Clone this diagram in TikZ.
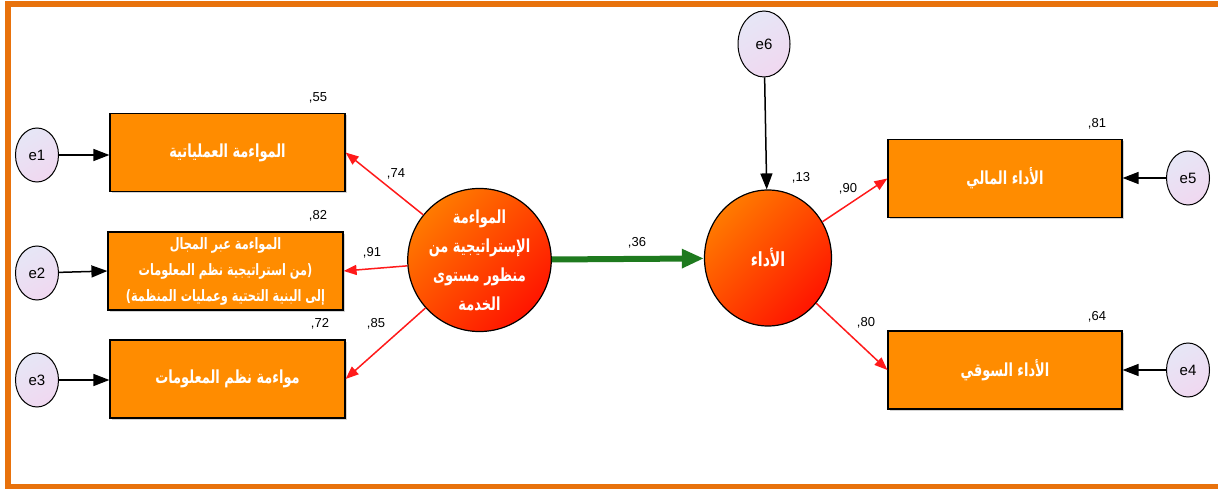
\documentclass[tikz,border=0pt]{standalone}
\usepackage{fontspec}
\setmainfont{Liberation Sans}
\newfontfamily\arabicfont[Script=Arabic,FakeStretch=0.72]{DejaVu Sans}
\TeXXeTstate=1
\usetikzlibrary{shapes.geometric,arrows.meta,shadows}
\definecolor{frameor}{HTML}{E8720C}
\definecolor{boxor}{HTML}{FF8C00}
\definecolor{circo}{HTML}{FF7A00}
\definecolor{circr}{HTML}{FF1500}
\definecolor{lavA}{HTML}{E6E6F6}
\definecolor{lavB}{HTML}{F0D8F0}
\definecolor{redline}{HTML}{FF1A1A}
\definecolor{greenline}{HTML}{1E7A1E}
\tikzset{
  box/.style={draw=black, line width=1.2pt, fill=boxor, minimum width=235pt, minimum height=78pt,
    inner sep=1pt, align=center, text=white, font=\arabicfont\bfseries\fontsize{18}{21}\selectfont,
    drop shadow={shadow xshift=2pt, shadow yshift=-2pt, opacity=0.35}},
  latent/.style={ellipse, draw=black, line width=1.2pt, minimum width=127pt, minimum height=136pt,
    inner sep=0pt, align=center, text=white, shading=axis, top color=circo, bottom color=circr,
    shading angle=45, font=\arabicfont\bfseries\fontsize{19.5}{29}\selectfont},
  err/.style={ellipse, draw=black, line width=1pt, minimum width=43pt, minimum height=54pt,
    inner sep=0pt, shading=axis, top color=lavA, bottom color=lavB, shading angle=30,
    font=\fontsize{15}{17}\selectfont},
  lbl/.style={font=\fontsize{13}{15}\selectfont, inner sep=0pt},
  blackarrow/.style={draw=black, line width=1.5pt, -{Triangle[length=16pt,width=12pt]}},
  redarrow/.style={draw=redline, line width=1.5pt, -{Triangle[length=13pt,width=10pt]}},
  greenarrow/.style={draw=greenline, line width=6pt, -{Triangle[length=22pt,width=18pt]}},
}
\begin{document}
\begin{tikzpicture}[x=1pt,y=-1pt]
\useasboundingbox (0,0) rectangle (1218,489);
% frame
\fill[frameor] (5,1) rectangle (1218,7);
\fill[frameor] (5,1) rectangle (11,489);
\fill[frameor] (5,484) rectangle (1218,489);
% boxes
\node[box] (b1) at (227.5,152.5) {\beginR المواءمة العملياتية\endR};
\node[box, font=\arabicfont\bfseries\fontsize{15.7}{26}\selectfont] (b2) at (225.5,271) {\beginR المواءمة عبر المجال\endR\\\beginR\beginL(\endL من استراتيجية نظم المعلومات\endR\\\beginR إلى البنية التحتية وعمليات المنظمة\beginL)\endL\endR};
\node[box] (b3) at (227.5,379) {\beginR مواءمة نظم المعلومات\endR};
\node[box, minimum width=234pt] (b4) at (1005,178.5) {\beginR الأداء المالي\endR};
\node[box, minimum width=234pt] (b5) at (1005,370) {\beginR الأداء السوقي\endR};
% latent
\node[latent, font=\arabicfont\bfseries\fontsize{18}{29}\selectfont] (c1) at (479.5,260) {\beginR المواءمة\endR\\\beginR الإستراتيجية من\endR\\\beginR منظور مستوى\endR\\\beginR الخدمة\endR};
\node[latent] (c2) at (768,258) {\beginR الأداء\endR};
% errors
\node[err] (e1) at (37,155) {e1};
\node[err] (e2) at (37,273) {e2};
\node[err] (e3) at (37,380) {e3};
\node[err, minimum width=52pt, minimum height=66pt] (e6) at (764,44) {e6};
\node[err] (e5) at (1188,178) {e5};
\node[err] (e4) at (1188,370) {e4};
% connectors
\draw[blackarrow] (e1) -- (b1.west |- e1);
\draw[blackarrow] (e2) -- (b2.west);
\draw[blackarrow] (e3) -- (b3.west |- e3);
\draw[blackarrow] (e5) -- (b4.east |- e5);
\draw[blackarrow] (e4) -- (b5.east |- e4);
\draw[blackarrow] (e6) -- (c2);
\draw[redarrow] (c1) -- (b1.east);
\draw[redarrow] (c1) -- (b2.east);
\draw[redarrow] (c1) -- (b3.east);
\draw[redarrow] (c2) -- (b4.west);
\draw[redarrow] (c2) -- (b5.west);
\draw[greenarrow] (c1) -- (c2);
% labels
\node[lbl] (l55) at (318,98) {,55};
\node[lbl] (l82) at (318,216) {,82};
\node[lbl] (l72) at (320,324) {,72};
\node[lbl] (l74) at (396,174) {,74};
\node[lbl] (l91) at (372,253) {,91};
\node[lbl] (l85) at (376,324) {,85};
\node[lbl] (l36) at (637,243) {,36};
\node[lbl] (l13) at (801,178) {,13};
\node[lbl] (l90) at (848,189) {,90};
\node[lbl] (l80) at (866,323) {,80};
\node[lbl] (l81) at (1097,124) {,81};
\node[lbl] (l64) at (1097,317) {,64};
\end{tikzpicture}
\end{document}
